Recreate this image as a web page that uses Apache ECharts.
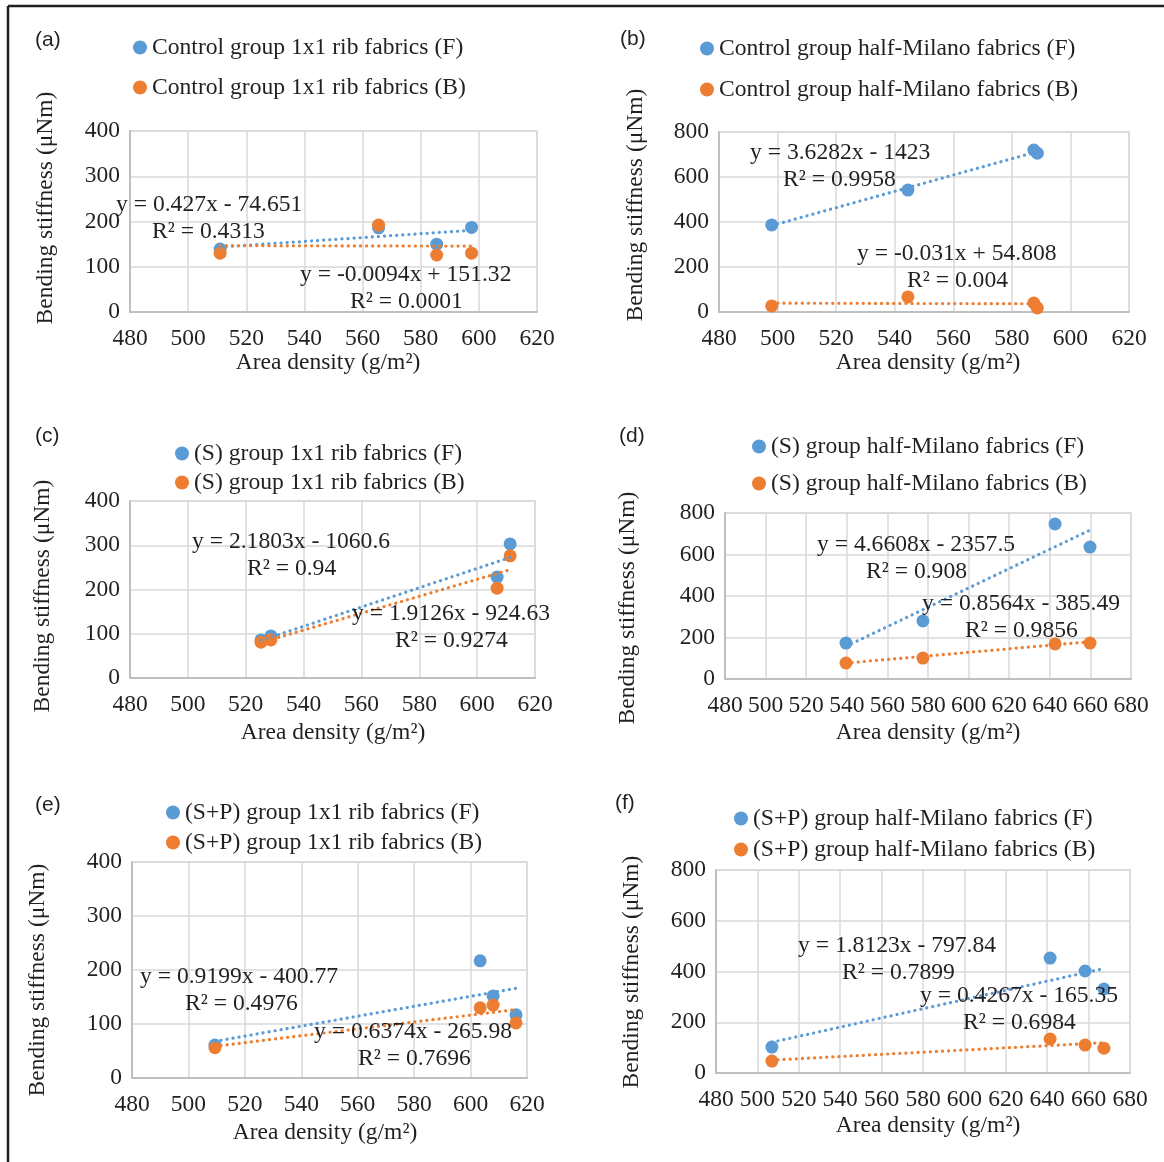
<!DOCTYPE html>
<html>
<head>
<meta charset="utf-8">
<script src="https://cdn.jsdelivr.net/npm/echarts@6/dist/echarts.min.js"></script>
<style>
  html, body { margin: 0; padding: 0; background: #fff; }
  #main { width: 1164px; height: 1162px; }
</style>
</head>
<body>
<div id="main"></div>
<script>
// panel data: area density (x) and bending stiffness (y), front (F) and back (B)
var xA = [511, 565.5, 585.5, 597.5];
var yA_F = [139, 186, 150, 187];
var yA_B = [130, 192, 126, 130];

var xB = [498, 544.5, 587.5, 588.7];
var yB_F = [387, 542, 720, 706];
var yB_B = [27, 67, 40, 18];

var xC = [525.3, 528.7, 606.9, 611.4];
var yC_F = [86, 95, 228, 303];
var yC_B = [81, 86, 203, 276];

var xD = [539.6, 577.5, 642.6, 659.8];
var yD_F = [173, 280, 747, 636];
var yD_B = [77, 101, 169, 173];

var xE = [509.4, 603.4, 608, 616.1];
var yE_F = [61, 217, 152, 117];
var yE_B = [56, 130, 135, 102];

var xF = [507, 641.4, 658.3, 667.4];
var yF_F = [102, 453, 402, 331];
var yF_B = [47, 134, 110, 98];

// linear trendline coefficients [slope, intercept] as printed on the chart
var trendF = [[0.427, -74.651], [3.6282, -1423], [2.1803, -1060.6], [4.6608, -2357.5], [0.9199, -400.77], [1.8123, -797.84]];
var trendB = [[-0.0094, 151.32], [-0.031, 54.808], [1.9126, -924.63], [0.8564, -385.49], [0.6374, -265.98], [0.4267, -165.35]];

var eqF = ['y = 0.427x - 74.651', 'y = 3.6282x - 1423', 'y = 2.1803x - 1060.6', 'y = 4.6608x - 2357.5', 'y = 0.9199x - 400.77', 'y = 1.8123x - 797.84'];
var r2F = ['R² = 0.4313', 'R² = 0.9958', 'R² = 0.94', 'R² = 0.908', 'R² = 0.4976', 'R² = 0.7899'];
var eqB = ['y = -0.0094x + 151.32', 'y = -0.031x + 54.808', 'y = 1.9126x - 924.63', 'y = 0.8564x - 385.49', 'y = 0.6374x - 265.98', 'y = 0.4267x - 165.35'];
var r2B = ['R² = 0.0001', 'R² = 0.004', 'R² = 0.9274', 'R² = 0.9856', 'R² = 0.7696', 'R² = 0.6984'];

var namesF = ['Control group 1x1 rib fabrics (F)', 'Control group half-Milano fabrics (F)', '(S) group 1x1 rib fabrics (F)',
              '(S) group half-Milano fabrics (F)', '(S+P) group 1x1 rib fabrics (F)', '(S+P) group half-Milano fabrics (F)'];
var namesB = ['Control group 1x1 rib fabrics (B)', 'Control group half-Milano fabrics (B)', '(S) group 1x1 rib fabrics (B)',
              '(S) group half-Milano fabrics (B)', '(S+P) group 1x1 rib fabrics (B)', '(S+P) group half-Milano fabrics (B)'];
var panelTags = ['(a)', '(b)', '(c)', '(d)', '(e)', '(f)'];
var xMax = [620, 620, 620, 680, 620, 680];
var yMax = [400, 800, 400, 800, 400, 800];
var yStep = [100, 200, 100, 200, 100, 200];

var xs = [xA, xB, xC, xD, xE, xF];
var ysF = [yA_F, yB_F, yC_F, yD_F, yE_F, yF_F];
var ysB = [yA_B, yB_B, yC_B, yD_B, yE_B, yF_B];

// layout (pixels)
var grids = [
  {left: 130, top: 131, w: 407, h: 181},
  {left: 719, top: 132, w: 410, h: 180},
  {left: 130, top: 501, w: 405, h: 177},
  {left: 725, top: 513, w: 406, h: 166},
  {left: 132, top: 862, w: 395, h: 216},
  {left: 716, top: 870, w: 414, h: 203}
];
var legendPos = [[133, 35.5, 16], [700, 36.5, 17], [175, 441.5, 5], [752, 434.5, 13], [166, 800.5, 6], [734, 806.5, 7]];
var tagPos = [[48, 42], [633, 41], [48, 438], [632, 438], [48, 807], [628, 805]];
var yTitlePos = [[46, 208], [636, 205], [43, 596], [628, 608], [38, 980], [632, 972]];
var xTitlePos = [[328, 363], [928, 363], [333, 733], [928, 733], [325, 1133], [928, 1126]];
var eqPosF = [[116, 205, 152, 232], [750, 153, 783, 180], [192, 542, 247, 569], [817, 545, 866, 572], [140, 977, 185, 1004], [798, 946, 842, 973]];
var eqPosB = [[300, 275, 350, 302], [857, 254, 907, 281], [352, 614, 395, 641], [922, 604, 965, 631], [314, 1032, 358, 1059], [920, 996, 963, 1023]];

var blue = '#5B9BD5', orange = '#ED7D31', ink = '#231f20';
var serif = '"Liberation Serif", "Times New Roman", serif';

var dom = document.getElementById('main');
var myChart = echarts.init(dom);

function pairs(x, y) {
  return x.map(function (v, i) { return [v, y[i]]; });
}
function trend(x, c) {
  var lo = Math.min.apply(null, x), hi = Math.max.apply(null, x);
  return [[lo, c[0] * lo + c[1]], [hi, c[0] * hi + c[1]]];
}

var option = {
  backgroundColor: '#fff',
  animation: false,
  grid: [], xAxis: [], yAxis: [], legend: [], series: [], graphic: []
};

for (var i = 0; i < 6; i++) {
  var g = grids[i];
  option.grid.push({left: g.left, top: g.top, width: g.w, height: g.h,
    show: true, borderColor: '#d9d9d9', borderWidth: 1.5});
  option.xAxis.push({
    gridIndex: i, type: 'value', min: 480, max: xMax[i], interval: 20,
    axisLine: {lineStyle: {color: '#bfbfbf', width: 2}},
    axisTick: {show: false},
    axisLabel: {color: ink, fontFamily: serif, fontSize: 23.5, margin: 15},
    splitLine: {show: true, lineStyle: {color: '#d9d9d9', width: 1.5}}
  });
  option.yAxis.push({
    gridIndex: i, type: 'value', min: 0, max: yMax[i], interval: yStep[i],
    axisLine: {show: true, lineStyle: {color: '#bfbfbf', width: 2}},
    axisTick: {show: false},
    axisLabel: {color: ink, fontFamily: serif, fontSize: 23.5, margin: 10},
    splitLine: {show: true, lineStyle: {color: '#d9d9d9', width: 1.5}}
  });
  option.legend.push({
    left: legendPos[i][0], top: legendPos[i][1], orient: 'vertical',
    padding: 0, itemGap: legendPos[i][2], itemWidth: 14, itemHeight: 14,
    icon: 'circle', data: [namesF[i], namesB[i]],
    textStyle: {color: ink, fontFamily: serif, fontSize: 23.6, lineHeight: 23}
  });
  option.series.push({
    name: namesF[i], type: 'scatter', xAxisIndex: i, yAxisIndex: i,
    symbolSize: 13, itemStyle: {color: blue, opacity: 1}, z: 3,
    data: pairs(xs[i], ysF[i])
  });
  option.series.push({
    name: namesB[i], type: 'scatter', xAxisIndex: i, yAxisIndex: i,
    symbolSize: 13, itemStyle: {color: orange, opacity: 1}, z: 3,
    data: pairs(xs[i], ysB[i])
  });
  option.series.push({
    type: 'line', xAxisIndex: i, yAxisIndex: i, showSymbol: false, silent: true, z: 4,
    lineStyle: {color: blue, width: 3.2, type: [0.1, 6], cap: 'round'},
    data: trend(xs[i], trendF[i])
  });
  option.series.push({
    type: 'line', xAxisIndex: i, yAxisIndex: i, showSymbol: false, silent: true, z: 4,
    lineStyle: {color: orange, width: 3.2, type: [0.1, 6], cap: 'round'},
    data: trend(xs[i], trendB[i])
  });

  option.graphic.push(
    {type: 'text', left: tagPos[i][0] - 13, top: tagPos[i][1] - 12, z: 10,
     style: {text: panelTags[i], fill: ink, font: '21px "Liberation Sans", Arial, sans-serif'}},
    {type: 'text', x: yTitlePos[i][0], y: yTitlePos[i][1], rotation: Math.PI / 2, z: 10,
     style: {text: 'Bending stiffness (μNm)', fill: ink, font: '23.5px ' + serif, align: 'center', verticalAlign: 'middle'}},
    {type: 'text', x: xTitlePos[i][0], y: xTitlePos[i][1], z: 10,
     style: {text: 'Area density (g/m²)', fill: ink, font: '23.5px ' + serif, align: 'center', verticalAlign: 'middle'}},
    {type: 'text', x: eqPosF[i][0], y: eqPosF[i][1], z: 10,
     style: {text: eqF[i], fill: ink, font: '23.6px ' + serif, verticalAlign: 'middle'}},
    {type: 'text', x: eqPosF[i][2], y: eqPosF[i][3], z: 10,
     style: {text: r2F[i], fill: ink, font: '23.6px ' + serif, verticalAlign: 'middle'}},
    {type: 'text', x: eqPosB[i][0], y: eqPosB[i][1], z: 10,
     style: {text: eqB[i], fill: ink, font: '23.6px ' + serif, verticalAlign: 'middle'}},
    {type: 'text', x: eqPosB[i][2], y: eqPosB[i][3], z: 10,
     style: {text: r2B[i], fill: ink, font: '23.6px ' + serif, verticalAlign: 'middle'}}
  );
}

// outer frame: top and left rules
option.graphic.push(
  {type: 'line', shape: {x1: 8, y1: 6, x2: 1164, y2: 6}, style: {stroke: ink, lineWidth: 2.5}},
  {type: 'line', shape: {x1: 8, y1: 6, x2: 8, y2: 1162}, style: {stroke: ink, lineWidth: 2.5}}
);

window.onresize = function () {
  myChart.resize();
};

if (option && typeof option === 'object') {
  myChart.setOption(option);
}
</script>
</body>
</html>
